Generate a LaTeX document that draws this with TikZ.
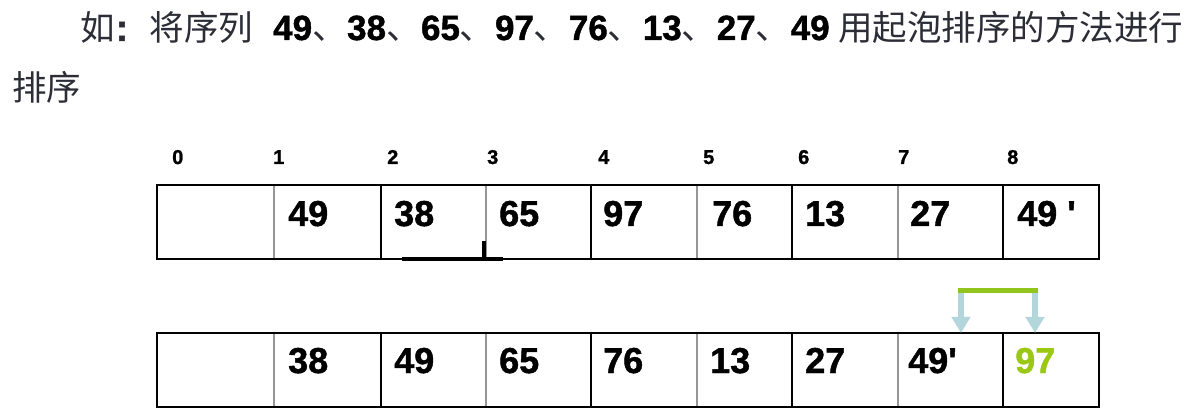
\documentclass[tikz,border=0pt]{standalone}
\usepackage{fontspec}
\setmainfont{Liberation Sans}
\newfontfamily\cjk{Noto Sans CJK SC}
\newfontfamily\heavy{Liberation Sans}[BoldFeatures={FakeBold=1.2}]
\usetikzlibrary{arrows.meta}
\definecolor{titlegray}{RGB}{45,45,55}
\definecolor{divgray}{RGB}{150,150,150}
\definecolor{arrowblue}{RGB}{178,214,220}
\definecolor{bargreen}{RGB}{146,196,30}
\definecolor{numgreen}{RGB}{155,200,20}
\newcommand\mydun{{\cjk\mdseries\color{titlegray}、}}
\begin{document}
\begin{tikzpicture}[x=1pt,y=-1pt,
  idx/.style={anchor=base west, inner sep=0pt, font=\heavy\fontsize{20}{22}\selectfont\bfseries},
  num/.style={anchor=base west, inner sep=0pt, font=\heavy\fontsize{36}{40}\selectfont\bfseries},
  ttl/.style={anchor=base west, inner sep=0pt, text=titlegray, font=\fontsize{34.5}{40}\selectfont\cjk},
  outer/.style={draw=black, line width=2pt},
  gdiv/.style={draw=divgray, line width=2.2pt},
  bdiv/.style={draw=black, line width=2pt},
  swap/.style={draw=arrowblue, line width=6pt, -{Triangle[width=18pt,length=16pt]}},
  bar/.style={draw=bargreen, line width=5pt},
  cursor/.style={draw=black, line width=4.5pt}
]
\useasboundingbox (0,0) rectangle (1196,419);
\fill[white] (0,0) rectangle (1196,419);

% title
\node[ttl] (t1) at (80,41) {如\makebox[35pt][l]{\hspace{1pt}\heavy\bfseries\fontsize{38}{40}\selectfont :}将序列};
\node[ttl, text=black] (t2) at (273,40) {\heavy\bfseries\fontsize{35}{40}\selectfont 49\mydun 38\mydun 65\mydun 97\mydun 76\mydun 13\mydun 27\mydun 49};
\node[ttl] (t3) at (838,41) {用起泡排序的方法进行};
\node[ttl] (t4) at (12,101) {排序};

% index labels
\foreach \n/\x in {0/172,1/273,2/387,3/487,4/598,5/703,6/798,7/898,8/1007}
  \node[idx] (i\n) at (\x,164) {\n};

% grids
\foreach \y in {185,333}{
  \foreach \x in {274,486,697,898} \draw[gdiv] (\x,\y) -- (\x,\y+74);
  \foreach \x in {381,591,792,1003} \draw[bdiv] (\x,\y) -- (\x,\y+74);
  \draw[outer] (157,\y) rectangle (1099,\y+74);
}

% top row values
\node[num] (a1) at (288,226) {49};
\node[num] (a2) at (394,226) {38};
\node[num] (a3) at (499,226) {65};
\node[num] (a4) at (603,226) {97};
\node[num] (a5) at (712,226) {76};
\node[num] (a6) at (805,226) {13};
\node[num] (a7) at (910,226) {27};
\node[num] (a8) at (1017,226) {49 '};

% bottom row values
\node[num] (b1) at (288,373) {38};
\node[num] (b2) at (394,373) {49};
\node[num] (b3) at (499,373) {65};
\node[num] (b4) at (603,373) {76};
\node[num] (b5) at (710,373) {13};
\node[num] (b6) at (805,373) {27};
\node[num] (b7) at (908,373) {49'};
\node[num, text=numgreen] (b8) at (1015,373) {97};

% swap arrows
\coordinate (p7) at (961,291);
\coordinate (p8) at (1035,291);
\coordinate (q7) at (961,333);
\coordinate (q8) at (1035,333);
\draw[swap] (p7) -- (q7);
\draw[swap] (p8) -- (q8);
\draw[bar] ([xshift=-3pt]p7) -- ([xshift=3pt]p8);

% cursor mark
\coordinate (c1) at (402,259);
\coordinate (c2) at (503,259);
\coordinate (c3) at (484,241);
\coordinate (c4) at (484,259);
\draw[cursor] (c1) -- (c2);
\draw[cursor] (c4) -- (c3);
\end{tikzpicture}
\end{document}
